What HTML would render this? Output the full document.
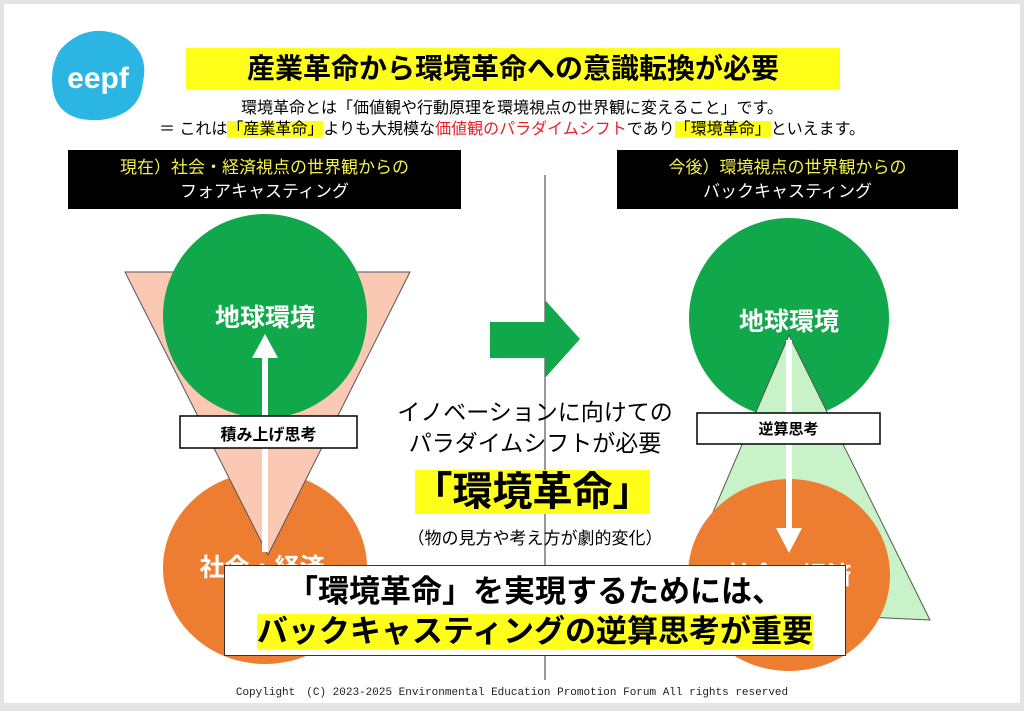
<!DOCTYPE html>
<html><head><meta charset="utf-8"><style>
body{margin:0;width:1024px;height:711px;background:#e6e4e2;position:relative;overflow:hidden;font-family:"Liberation Sans","Noto Sans CJK JP",sans-serif}
.slide{position:absolute;left:4px;top:4px;width:1016px;height:699px;background:#fff}
.a{position:absolute}
.c{text-align:center;white-space:nowrap}
</style></head><body>
<div class="slide"></div>
<svg class="a" style="left:0;top:0" width="1024" height="711">
<path d="M60 50 Q85 22 120 35 Q150 50 143 82 Q140 115 100 120 Q62 122 54 95 Q48 70 60 50Z" fill="#2bb5e2"/>
<text x="98" y="88" font-size="30" font-weight="bold" fill="#fff" text-anchor="middle" font-family="Liberation Sans">eepf</text>
<rect x="186" y="48" width="654" height="42" fill="#ffff1a"/>
<rect x="68" y="150" width="393" height="59" fill="#000"/>
<rect x="617" y="150" width="341" height="59" fill="#000"/>
<line x1="545" y1="175" x2="545" y2="680" stroke="#333" stroke-width="1"/>
<ellipse cx="265" cy="568" rx="102" ry="96" fill="#ed7d31"/>
<polygon points="125,272 410,272 268,555" fill="#fbc8b3" stroke="#555" stroke-width="1"/>
<circle cx="265" cy="316" r="102" fill="#10a84a"/>
<line x1="265" y1="552" x2="265" y2="355" stroke="#fff" stroke-width="6"/>
<polygon points="252,358 278,358 265,334" fill="#fff"/>
<polygon points="490,322 545,322 545,300 580,339 545,378 545,358 490,358" fill="#10a84a"/>
<circle cx="789" cy="318" r="100" fill="#10a84a"/>
<polygon points="789,335 672,608 930,620" fill="#c8f2c8" stroke="#555" stroke-width="1"/>
<ellipse cx="789" cy="575" rx="101" ry="96" fill="#ed7d31"/>
<line x1="789" y1="340" x2="789" y2="530" stroke="#fff" stroke-width="6"/>
<polygon points="776,528 802,528 789,553" fill="#fff"/>
<rect x="180" y="416" width="177" height="32" fill="#fff" stroke="#000" stroke-width="1.5"/>
<rect x="697" y="413" width="183" height="31" fill="#fff" stroke="#000" stroke-width="1.5"/>
<rect x="415" y="470" width="235" height="44" fill="#ffff1a"/>
</svg>
<div class="a c" style="left:186px;top:50px;width:654px;font-size:28px;font-weight:bold;line-height:38px">産業革命から環境革命への意識転換が必要</div>
<div class="a c" style="left:0;top:98px;width:1024px;font-size:16px;line-height:21px">環境革命とは「価値観や行動原理を環境視点の世界観に変えること」です。<br>＝ これは<span style="background:#ffff1a">「産業革命」</span>よりも大規模な<span style="color:#e8202a">価値観のパラダイムシフト</span>であり<span style="background:#ffff1a">「環境革命」</span>といえます。</div>
<div class="a c" style="left:68px;top:156px;width:393px;font-size:17px;line-height:24px"><span style="color:#f2f24a">現在）社会・経済視点の世界観からの</span><br><span style="color:#fff">フォアキャスティング</span></div>
<div class="a c" style="left:617px;top:156px;width:341px;font-size:17px;line-height:24px"><span style="color:#f2f24a">今後）環境視点の世界観からの</span><br><span style="color:#fff">バックキャスティング</span></div>
<div class="a c" style="left:165px;top:298px;width:200px;font-size:25px;font-weight:bold;color:#fff">地球環境</div>
<div class="a c" style="left:689px;top:302px;width:200px;font-size:25px;font-weight:bold;color:#fff">地球環境</div>
<div class="a c" style="left:162px;top:548px;width:200px;font-size:25px;font-weight:bold;color:#fff">社会・経済</div>
<div class="a c" style="left:689px;top:556px;width:200px;font-size:25px;font-weight:bold;color:#fff">社会・経済</div>
<div class="a c" style="left:180px;top:421px;width:177px;font-size:16px;font-weight:bold">積み上げ思考</div>
<div class="a c" style="left:697px;top:418px;width:183px;font-size:15px;font-weight:bold">逆算思考</div>
<div class="a c" style="left:380px;top:397px;width:310px;font-size:23px;line-height:31px">イノベーションに向けての<br>パラダイムシフトが必要</div>
<div class="a c" style="left:400px;top:468px;width:265px;font-size:40px;font-weight:bold;line-height:48px">「環境革命」</div>
<div class="a c" style="left:380px;top:524px;width:310px;font-size:17px">（物の見方や考え方が劇的変化）</div>
<div class="a" style="left:224px;top:565px;width:620px;height:89px;background:#fff;border:1px solid #333"></div>
<div class="a c" style="left:224px;top:572px;width:622px;font-size:31px;font-weight:bold;line-height:40px">「環境革命」を実現するためには、<br><span style="background:#ffff1a">バックキャスティングの逆算思考が重要</span></div>
<div class="a c" style="left:0;top:683px;width:1024px;font-size:11px;font-family:'Liberation Mono',monospace;color:#222">Copylight　(C) 2023-2025 Environmental Education Promotion Forum All rights reserved</div>
</body></html>
